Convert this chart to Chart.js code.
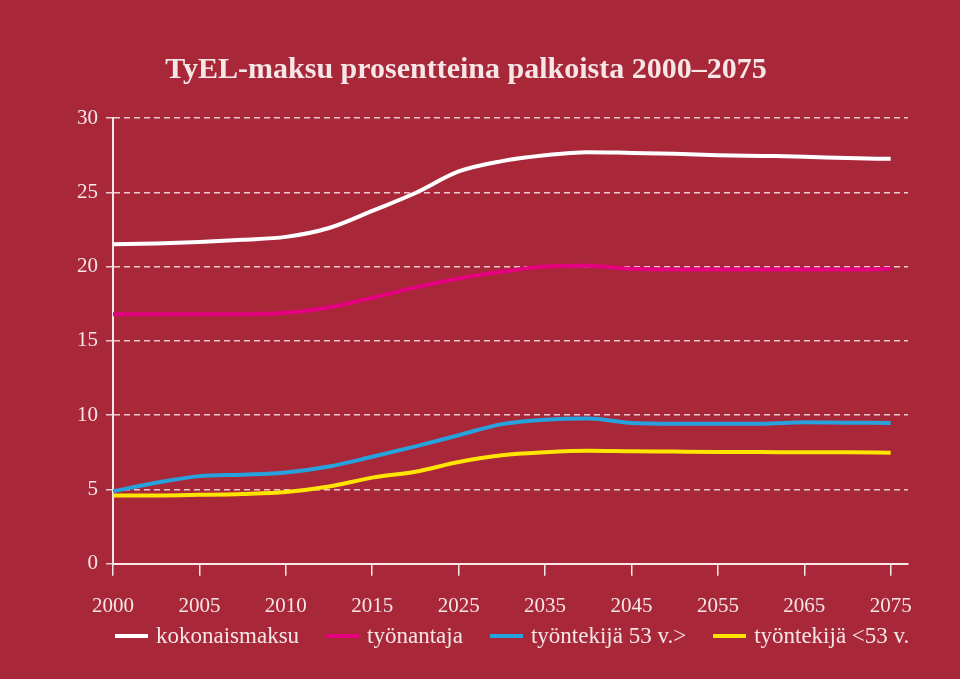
<!DOCTYPE html>
<html lang="fi">
<head>
<meta charset="utf-8">
<title>TyEL-maksu</title>
<script src="https://cdn.jsdelivr.net/npm/chart.js@4/dist/chart.umd.min.js"></script>
<style>
    html, body { margin: 0; padding: 0; background: #a8283a; }
    #wrap { position: relative; width: 960px; height: 679px; }
    #title {
        position: absolute; left: 0; top: 51px; width: 932px; margin: 0;
        text-align: center; color: #f6e6e6;
        font: bold 30px "Liberation Serif", "DejaVu Serif", serif;
    }
    #legend {
        position: absolute; left: 115px; top: 623px;
        display: flex; gap: 27px; align-items: center;
        color: #f6e6e6; font: 23px "Liberation Serif", "DejaVu Serif", serif;
    }
    #legend .item { display: flex; align-items: center; white-space: nowrap; }
    #legend .swatch { display: inline-block; width: 33px; height: 4px; margin-right: 8px; }
</style>
</head>
<body>
<div id="wrap">
    <h1 id="title">TyEL-maksu prosentteina palkoista 2000–2075</h1>
    <canvas id="chart" width="960" height="679"></canvas>
    <div id="legend"></div>
</div>
<script>
// vuodet x-akselilla (tasavälein, ei lineaarinen aika)
const yearLabels = ['2000', '2005', '2010', '2015', '2025', '2035', '2045', '2055', '2065', '2075'];
// pisteiden paikat akselilla (indeksi, puolivälit mukana)
const xPos = [0, 0.5, 1, 1.5, 2, 2.5, 3, 3.5, 4, 4.5, 5, 5.5, 6, 6.5, 7, 7.5, 8, 8.5, 9];

const kokonaismaksu = [21.5, 21.55, 21.65, 21.8, 22.0, 22.6, 23.75, 24.95, 26.4, 27.1, 27.5, 27.7, 27.65, 27.6, 27.5, 27.45, 27.4, 27.3, 27.25];
const tyonantaja    = [16.8, 16.8, 16.8, 16.8, 16.9, 17.25, 17.9, 18.6, 19.2, 19.65, 20.0, 20.05, 19.85, 19.8, 19.8, 19.8, 19.8, 19.8, 19.85];
const tyontekija53  = [4.88, 5.45, 5.9, 6.0, 6.15, 6.55, 7.2, 7.9, 8.65, 9.4, 9.7, 9.78, 9.47, 9.42, 9.42, 9.42, 9.53, 9.5, 9.47];
const tyontekijaAlle53 = [4.6, 4.6, 4.64, 4.7, 4.83, 5.2, 5.8, 6.2, 6.85, 7.3, 7.5, 7.6, 7.57, 7.55, 7.53, 7.52, 7.5, 7.5, 7.48];

const yTicks = [0, 5, 10, 15, 20, 25, 30];

const TEXT = '#f6e6e6';
const GRID = '#efc9cd';
const SERIF = '"Liberation Serif", "DejaVu Serif", serif';

function series(label, values, color) {
    return {
        label,
        data: values.map((v, i) => ({ x: xPos[i], y: v })),
        borderColor: color,
        backgroundColor: color,
        borderWidth: 4,
        pointRadius: 0,
        cubicInterpolationMode: 'monotone',
        fill: false
    };
}

const datasets = [
    series('kokonaismaksu', kokonaismaksu, '#ffffff'),
    series('työnantaja', tyonantaja, '#e4007f'),
    series('työntekijä 53 v.>', tyontekija53, '#27a2dc'),
    series('työntekijä <53 v.', tyontekijaAlle53, '#ffe500')
];

const chart = new Chart(document.getElementById('chart'), {
    type: 'line',
    data: { datasets },
    options: {
        responsive: false,
        animation: false,
        layout: { padding: { left: 69, right: 52, top: 118, bottom: 42 } },
        plugins: {
            legend: { display: false },
            tooltip: { enabled: false }
        },
        scales: {
            x: {
                type: 'linear',
                min: 0,
                max: 9.2,
                afterBuildTicks: axis => { axis.ticks = yearLabels.map((_, i) => ({ value: i })); },
                ticks: {
                    color: TEXT,
                    font: { family: SERIF, size: 21 },
                    padding: 18,
                    maxRotation: 0,
                    callback: v => yearLabels[v]
                },
                grid: { drawOnChartArea: false, color: TEXT, tickLength: 12, lineWidth: 1.5 },
                border: { color: TEXT, width: 2 }
            },
            y: {
                min: 0,
                max: 30,
                afterBuildTicks: axis => { axis.ticks = yTicks.map(v => ({ value: v })); },
                ticks: {
                    color: TEXT,
                    font: { family: SERIF, size: 21 },
                    padding: 8
                },
                grid: {
                    color: ctx => ctx.tick && ctx.tick.value === 0 ? 'rgba(0,0,0,0)' : GRID,
                    tickColor: GRID,
                    lineWidth: 1.5,
                    tickLength: 7,
                    tickBorderDash: [6, 4]
                },
                border: { color: TEXT, width: 2, dash: [6, 4] }
            }
        }
    }
});

// selite HTML:nä
const legendEl = document.getElementById('legend');
chart.data.datasets.forEach(ds => {
    const item = document.createElement('span');
    item.className = 'item';
    item.innerHTML = `<span class="swatch" style="background:${ds.borderColor}"></span>${ds.label.replace('<', '&lt;')}`;
    legendEl.appendChild(item);
});
</script>
</body>
</html>
